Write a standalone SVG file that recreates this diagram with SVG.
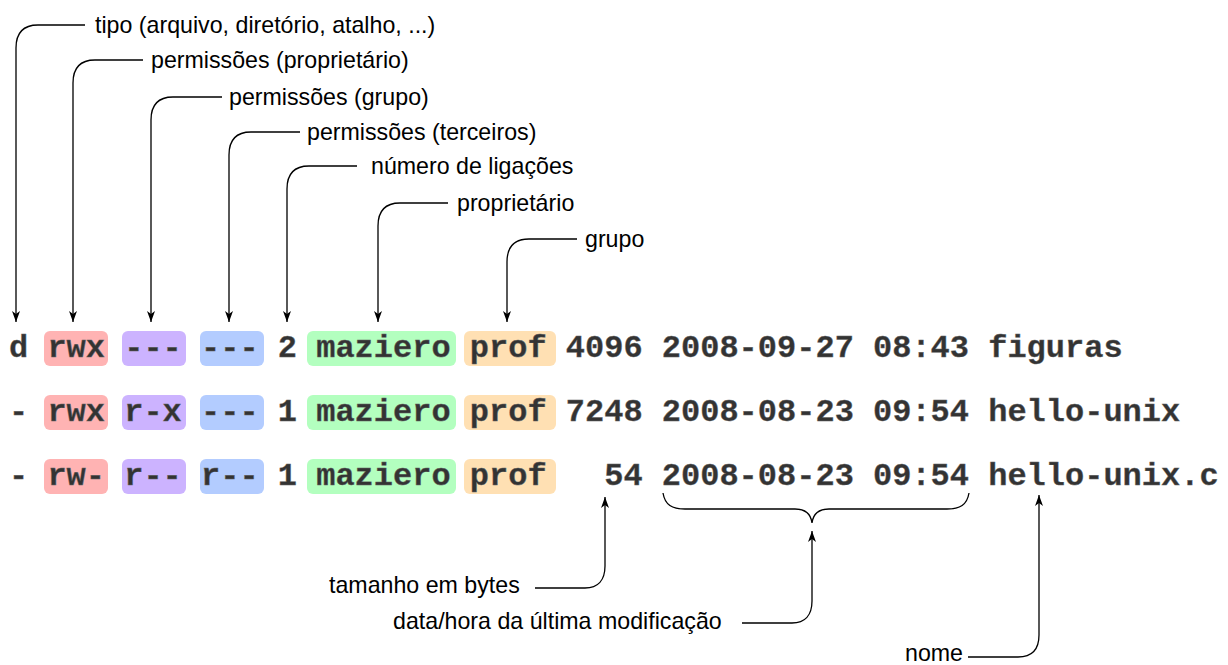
<svg xmlns="http://www.w3.org/2000/svg" width="1228" height="665" viewBox="0 0 1228 665">
<defs>
<style>
.lbl{font-family:"Liberation Sans",Arial,sans-serif;font-size:23.2px;fill:#000}
.mono{font-family:"Liberation Mono","Courier New",monospace;font-size:32px;font-weight:bold;fill:#333;stroke:#666;stroke-width:0.4}
.ln{fill:none;stroke:#000;stroke-width:1.3}
.r{fill:#ffb3b3}.p{fill:#ccb3ff}.b{fill:#b3ccff}.g{fill:#b3ffbf}.o{fill:#ffe0b3}
</style>
<marker id="ahd" markerUnits="userSpaceOnUse" markerWidth="12" markerHeight="8" refX="11" refY="4" orient="auto" viewBox="0 0 12 8">
<path d="M0,0 L11,4 L0,8 L3,4 z" fill="#000"/>
</marker>
</defs>
<rect width="1228" height="665" fill="#fff"/>

<g id="row1">
<rect class="r" x="44" y="331" width="64" height="35" rx="6"/>
<rect class="p" x="122" y="331" width="64" height="35" rx="6"/>
<rect class="b" x="200" y="331" width="64" height="35" rx="6"/>
<rect class="g" x="307" y="331" width="149" height="35" rx="6"/>
<rect class="o" x="464" y="331" width="92" height="35" rx="6"/>
<text class="mono" x="9" y="357">d</text>
<text class="mono" x="47.4" y="357">rwx</text>
<text class="mono" x="124.2" y="357">---</text>
<text class="mono" x="201" y="357">---</text>
<text class="mono" x="277.8" y="357">2</text>
<text class="mono" x="316.2" y="357">maziero</text>
<text class="mono" x="469.8" y="357">prof</text>
<text class="mono" x="565.8" y="357">4096</text>
<text class="mono" x="661.8" y="357">2008-09-27</text>
<text class="mono" x="873" y="357">08:43</text>
<text class="mono" x="988.2" y="357">figuras</text>
</g>

<g id="row2">
<rect class="r" x="44" y="395" width="64" height="35" rx="6"/>
<rect class="p" x="122" y="395" width="64" height="35" rx="6"/>
<rect class="b" x="200" y="395" width="64" height="35" rx="6"/>
<rect class="g" x="307" y="395" width="149" height="35" rx="6"/>
<rect class="o" x="464" y="395" width="92" height="35" rx="6"/>
<text class="mono" x="9" y="421">-</text>
<text class="mono" x="47.4" y="421">rwx</text>
<text class="mono" x="124.2" y="421">r-x</text>
<text class="mono" x="201" y="421">---</text>
<text class="mono" x="277.8" y="421">1</text>
<text class="mono" x="316.2" y="421">maziero</text>
<text class="mono" x="469.8" y="421">prof</text>
<text class="mono" x="565.8" y="421">7248</text>
<text class="mono" x="661.8" y="421">2008-08-23</text>
<text class="mono" x="873" y="421">09:54</text>
<text class="mono" x="988.2" y="421">hello-unix</text>
</g>

<g id="row3">
<rect class="r" x="44" y="459" width="64" height="35" rx="6"/>
<rect class="p" x="122" y="459" width="64" height="35" rx="6"/>
<rect class="b" x="200" y="459" width="64" height="35" rx="6"/>
<rect class="g" x="307" y="459" width="149" height="35" rx="6"/>
<rect class="o" x="464" y="459" width="92" height="35" rx="6"/>
<text class="mono" x="9" y="485">-</text>
<text class="mono" x="47.4" y="485">rw-</text>
<text class="mono" x="124.2" y="485">r--</text>
<text class="mono" x="201" y="485">r--</text>
<text class="mono" x="277.8" y="485">1</text>
<text class="mono" x="316.2" y="485">maziero</text>
<text class="mono" x="469.8" y="485">prof</text>
<text class="mono" x="604.2" y="485">54</text>
<text class="mono" x="661.8" y="485">2008-08-23</text>
<text class="mono" x="873" y="485">09:54</text>
<text class="mono" x="988.2" y="485">hello-unix.c</text>
</g>

<g id="lbl-tipo"><text class="lbl" x="95" y="33">tipo (arquivo, diretório, atalho, ...)</text></g>
<g id="lbl-perm-prop"><text class="lbl" x="151" y="68">permissões (proprietário)</text></g>
<g id="lbl-perm-grupo"><text class="lbl" x="229" y="105">permissões (grupo)</text></g>
<g id="lbl-perm-terc"><text class="lbl" x="307" y="140">permissões (terceiros)</text></g>
<g id="lbl-lig"><text class="lbl" x="371" y="174">número de ligações</text></g>
<g id="lbl-prop"><text class="lbl" x="457" y="211">proprietário</text></g>
<g id="lbl-grupo"><text class="lbl" x="585" y="247">grupo</text></g>
<g id="lbl-tam"><text class="lbl" x="329" y="593">tamanho em bytes</text></g>
<g id="lbl-data"><text class="lbl" x="393" y="629">data/hora da última modificação</text></g>
<g id="lbl-nome"><text class="lbl" x="905" y="661">nome</text></g>

<g id="connectors">
<path class="ln" marker-end="url(#ahd)" d="M85,25 H38 C24,25 16,32 16,48 V322"/>
<path class="ln" marker-end="url(#ahd)" d="M143,60 H95 C81,60 73,67 73,83 V322"/>
<path class="ln" marker-end="url(#ahd)" d="M222,97 H173 C159,97 151,104 151,120 V322"/>
<path class="ln" marker-end="url(#ahd)" d="M300,132 H251 C237,132 229,139 229,155 V322"/>
<path class="ln" marker-end="url(#ahd)" d="M357,166 H309 C295,166 287,173 287,189 V322"/>
<path class="ln" marker-end="url(#ahd)" d="M448,203 H400 C386,203 378,210 378,226 V322"/>
<path class="ln" marker-end="url(#ahd)" d="M577,239 H529 C515,239 507,246 507,262 V322"/>
<path class="ln" marker-end="url(#ahd)" d="M535,588 H585 C598,588 605,580 605,566 V497"/>
<path class="ln" marker-end="url(#ahd)" d="M742,623 H792 C805,623 812,615 812,601 V531"/>
<path class="ln" marker-end="url(#ahd)" d="M968,657 H1018 C1032,657 1039,649 1039,635 V495"/>
<path class="ln" d="M663,493 C665,505 672,509 685,509 H795 C806,509 811,515 812,523 C813,515 818,509 829,509 H947 C960,509 967,505 969,493"/>
</g>
</svg>
